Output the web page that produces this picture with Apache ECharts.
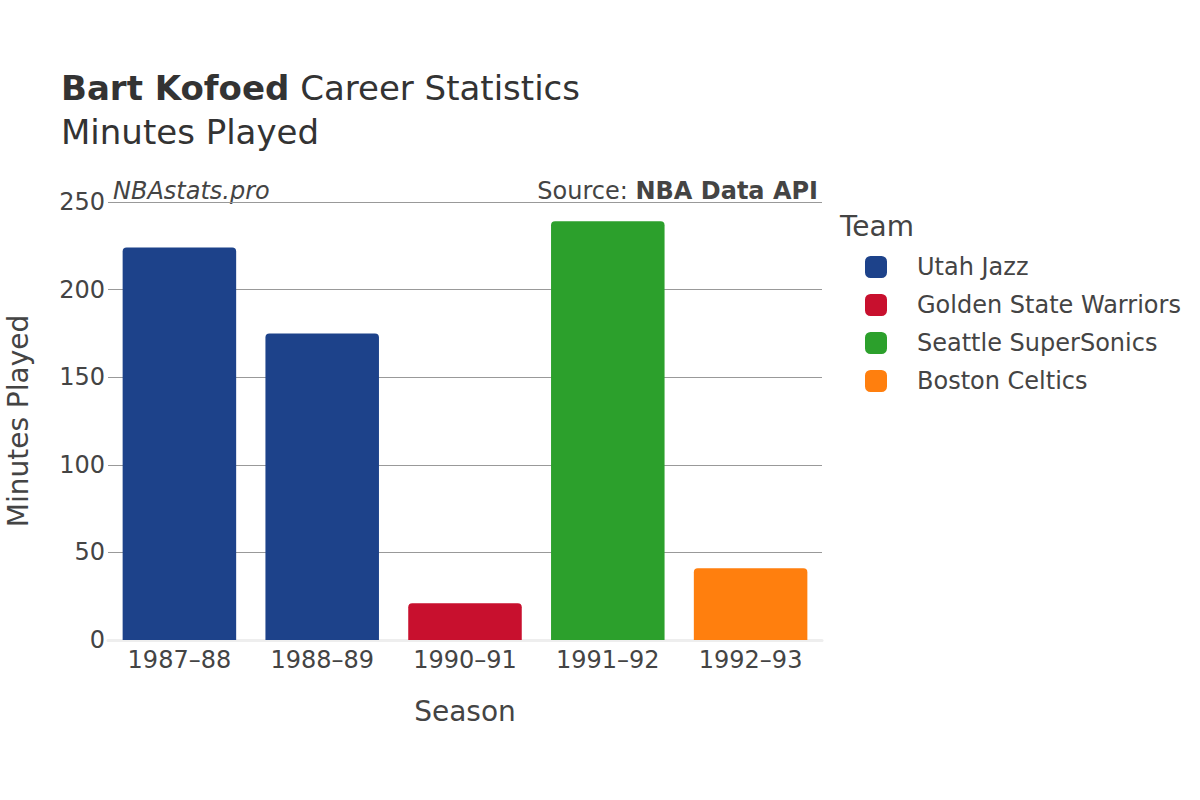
<!DOCTYPE html>
<html>
<head>
<meta charset="utf-8">
<script src="https://cdn.jsdelivr.net/npm/echarts@6/dist/echarts.min.js"></script>
<style>
  html, body { margin: 0; padding: 0; background: #fff; }
  #chart { width: 1200px; height: 800px; }
</style>
</head>
<body>
<div id="chart"></div>
<script>
// seasons on the x axis
const seasons = ['1987–88', '1988–89', '1990–91', '1991–92', '1992–93']
// team per season and minutes played
const teams = ['Utah Jazz', 'Golden State Warriors', 'Seattle SuperSonics', 'Boston Celtics']
const seasonTeam = ['Utah Jazz', 'Utah Jazz', 'Golden State Warriors', 'Seattle SuperSonics', 'Boston Celtics']
const minutes = [224, 175, 21, 239, 41]
const teamColors = ['#1d428a', '#c8102e', '#2ca02c', '#ff7f0e']
const yTicks = [0, 50, 100, 150, 200, 250]

const font = 'DejaVu Sans, sans-serif'
const textColor = '#444'

const chart = echarts.init(document.getElementById('chart'), null, { renderer: 'svg' })

// one stacked series per team so each bar keeps its team colour
const series = teams.map((team, i) => ({
  name: team,
  type: 'bar',
  stack: 'all',
  barWidth: '79.5%',
  itemStyle: { color: teamColors[i], borderRadius: [4, 4, 0, 0] },
  data: seasons.map((s, j) => (seasonTeam[j] === team ? minutes[j] : null))
}))

const option = {
  backgroundColor: '#fff',
  textStyle: { fontFamily: font },
  animation: false,
  grid: { left: 108, right: 378, top: 202, bottom: 160, outerBoundsMode: 'none', containLabel: false },
  graphic: [
    {
      type: 'text', left: 61, top: 71,
      style: {
        text: '{b|Bart Kofoed} Career Statistics',
        rich: { b: { fontWeight: 'bold', fontSize: 34, fontFamily: font, fill: '#333' } },
        fontSize: 34, fontFamily: font, fill: '#333'
      }
    },
    {
      type: 'text', left: 61, top: 115,
      style: { text: 'Minutes Played', fontSize: 34, fontFamily: font, fill: '#333' }
    },
    {
      type: 'text', left: 113, top: 179,
      style: { text: 'NBAstats.pro', fontSize: 24, fontStyle: 'italic', fontFamily: font, fill: '#444' }
    },
    {
      type: 'text', right: 382, top: 179,
      style: {
        text: 'Source: {b|NBA Data API}',
        rich: { b: { fontWeight: 'bold', fontSize: 24, fontFamily: font, fill: '#444' } },
        fontSize: 24, fontFamily: font, fill: '#444'
      }
    },
    {
      type: 'text', left: 840, top: 212,
      style: { text: 'Team', fontSize: 28, fontFamily: font, fill: '#444' }
    }
  ],
  legend: {
    data: teams,
    orient: 'vertical',
    left: 865,
    top: 255,
    padding: 0,
    icon: 'roundRect',
    itemWidth: 22,
    itemHeight: 22,
    itemGap: 14,
    textStyle: { fontSize: 24, color: textColor, fontFamily: font, padding: [0, 0, 0, 25] }
  },
  xAxis: {
    type: 'category',
    data: seasons,
    name: 'Season',
    nameLocation: 'middle',
    nameGap: 57,
    nameTextStyle: { fontSize: 28, color: textColor, fontFamily: font },
    axisLine: { show: true, lineStyle: { color: '#eee', width: 3 } },
    axisTick: { show: false },
    axisLabel: { fontSize: 24, color: textColor, margin: 8, fontFamily: font }
  },
  yAxis: {
    type: 'value',
    min: yTicks[0],
    max: yTicks[yTicks.length - 1],
    interval: 50,
    name: 'Minutes Played',
    nameLocation: 'middle',
    nameGap: 76,
    nameTextStyle: { fontSize: 28, color: textColor, fontFamily: font },
    axisLine: { show: false },
    axisTick: { show: false },
    axisLabel: { fontSize: 24, color: textColor, margin: 3, fontFamily: font },
    splitLine: { lineStyle: { color: '#999', width: 1 } }
  },
  series: series
}

chart.setOption(option)
</script>
</body>
</html>
